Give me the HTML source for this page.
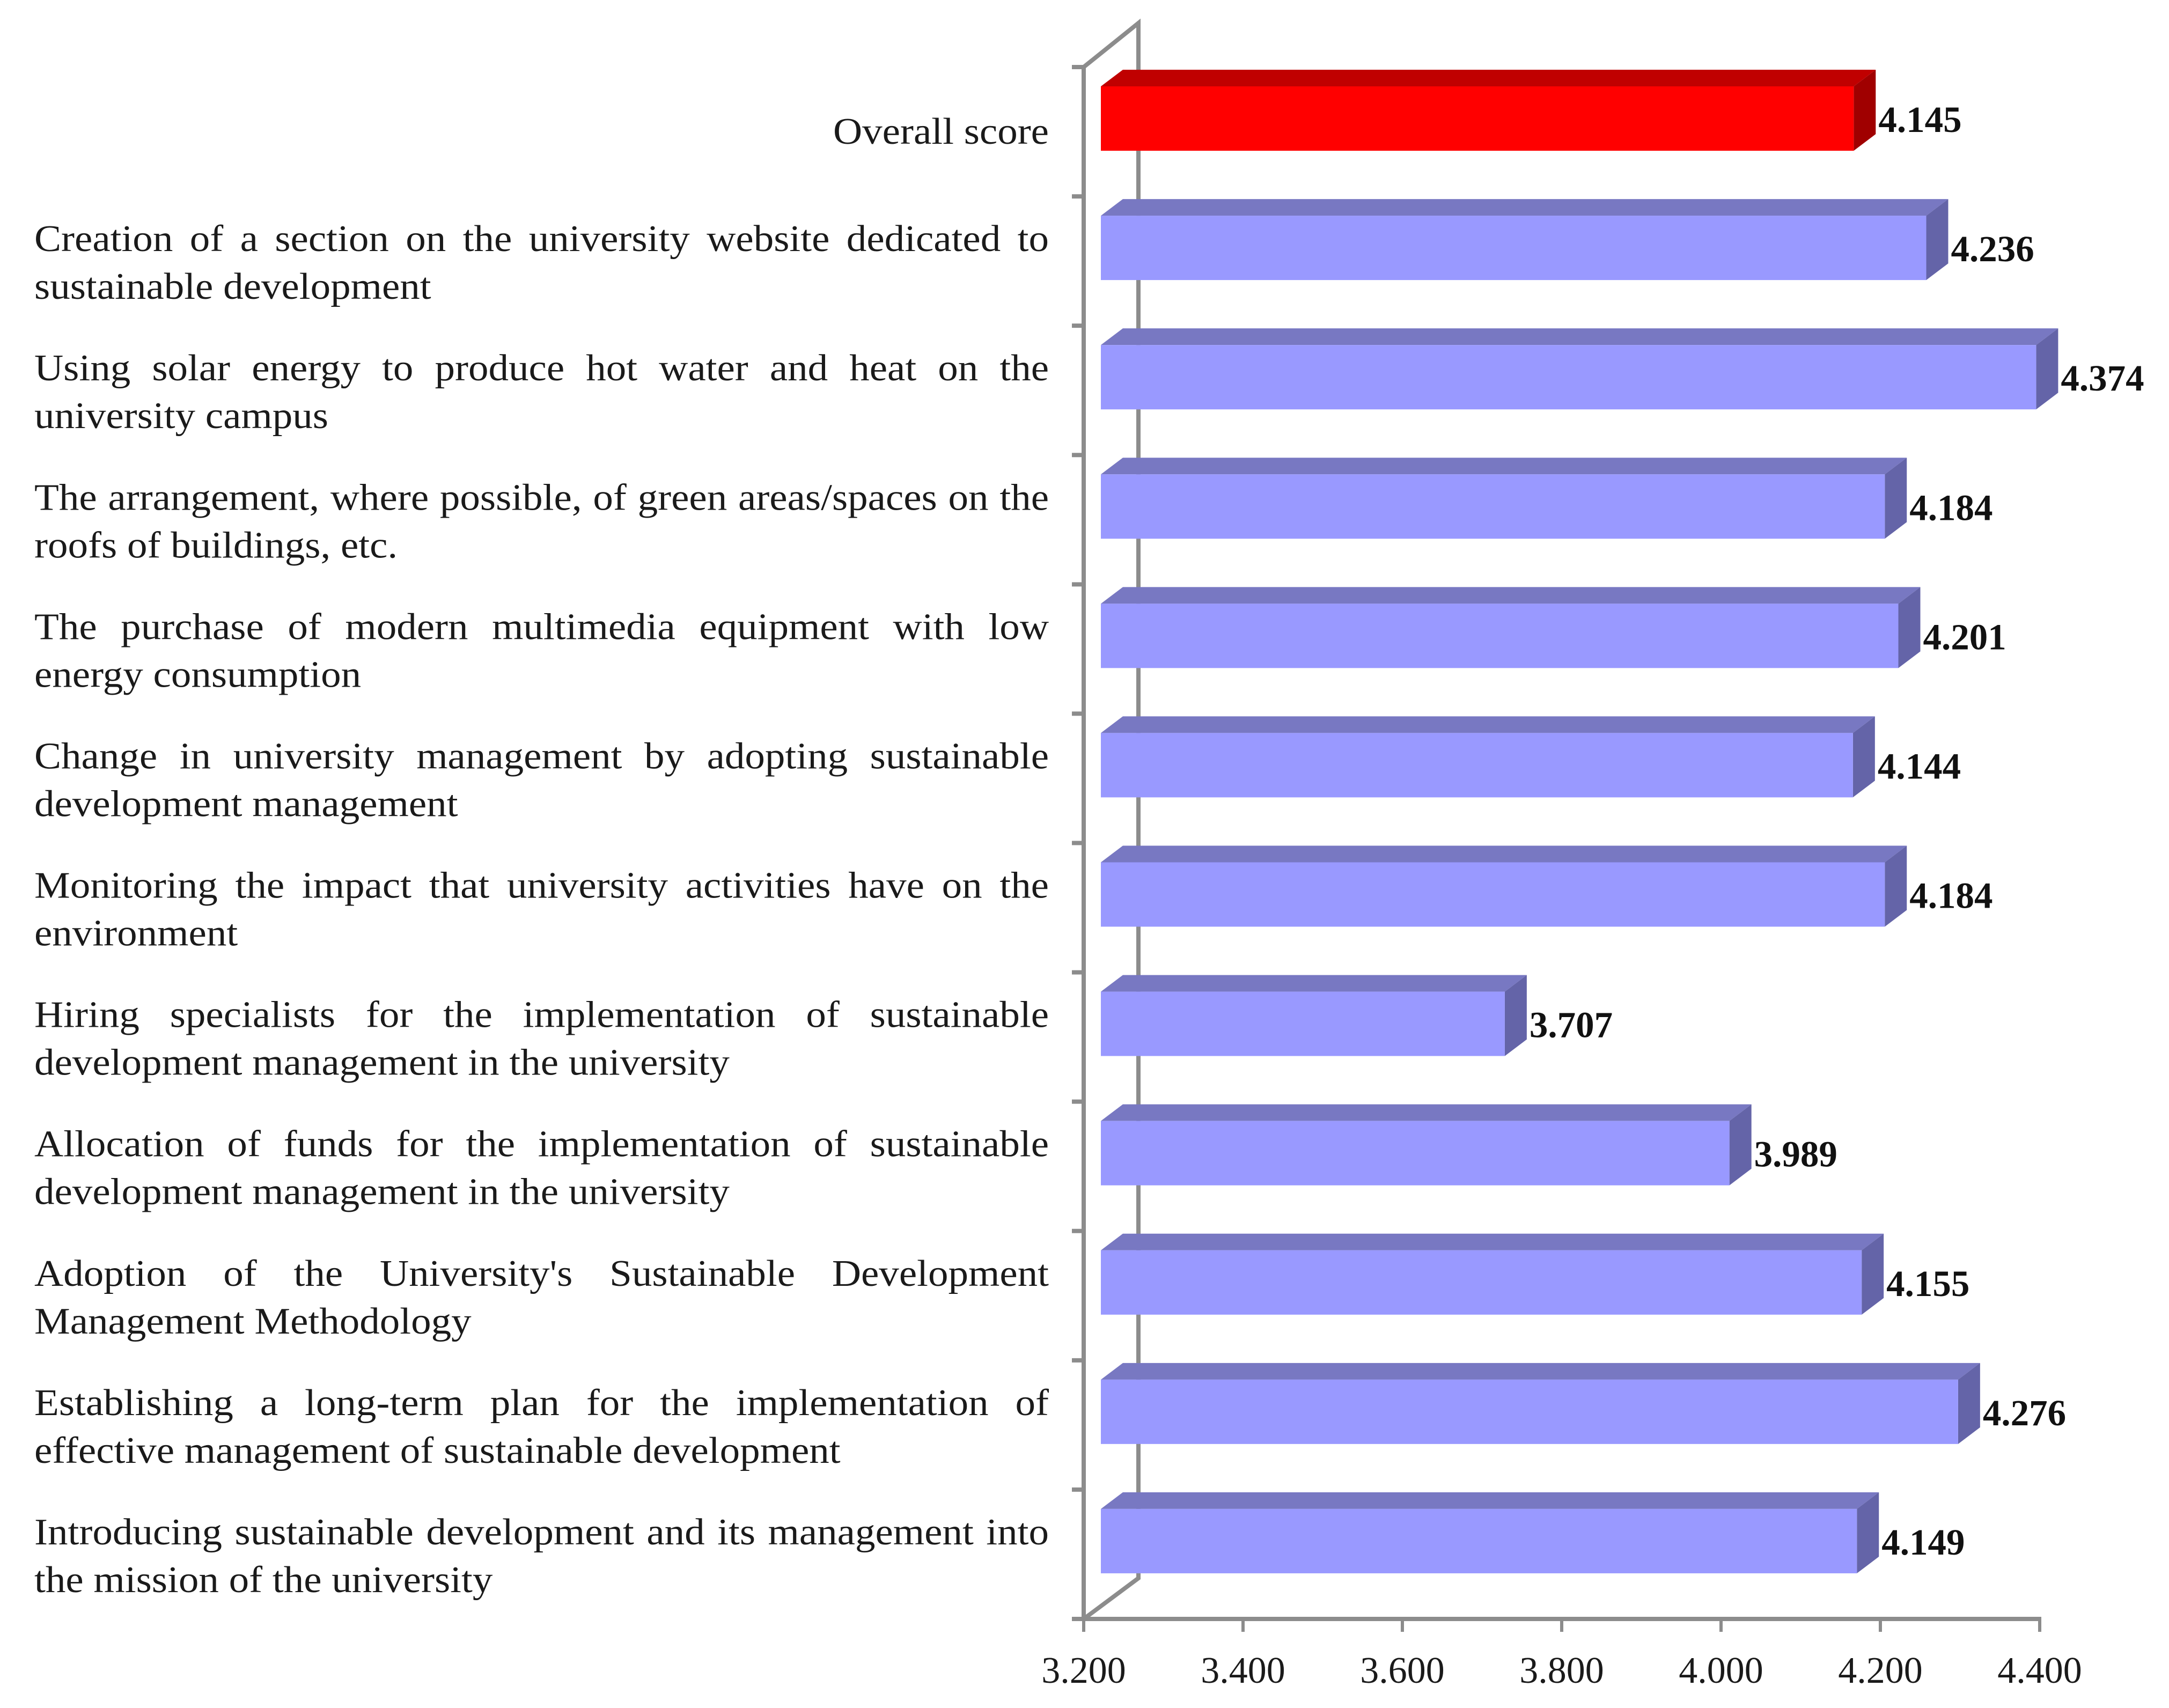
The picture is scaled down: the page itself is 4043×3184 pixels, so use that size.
<!DOCTYPE html>
<html lang="en">
<head>
<meta charset="utf-8">
<title>Sustainable development measures chart</title>
<style>
html,body{margin:0;padding:0;background:#fff;width:4043px;height:3184px;overflow:hidden}
svg{display:block}
text{font-family:"Liberation Serif",serif}
.cat{font-size:70px;fill:#1a1a1a}
.val{font-size:69px;font-weight:bold;fill:#111}
.tick{font-size:70px;fill:#1a1a1a}
</style>
</head>
<body>
<svg id="chart" xmlns="http://www.w3.org/2000/svg" width="4043" height="3184" viewBox="0 0 4043 3184"></svg>
<script>
const categories = [
  ["Overall score"],
  ["Creation of a section on the university website dedicated to", "sustainable development"],
  ["Using solar energy to produce hot water and heat on the", "university campus"],
  ["The arrangement, where possible, of green areas/spaces on the", "roofs of buildings, etc."],
  ["The purchase of modern multimedia equipment with low", "energy consumption"],
  ["Change in university management by adopting sustainable", "development management"],
  ["Monitoring the impact that university activities have on the", "environment"],
  ["Hiring specialists for the implementation of sustainable", "development management in the university"],
  ["Allocation of funds for the implementation of sustainable", "development management in the university"],
  ["Adoption of the University's Sustainable Development", "Management Methodology"],
  ["Establishing a long-term plan for the implementation of", "effective management of sustainable development"],
  ["Introducing sustainable development and its management into", "the mission of the university"]
];
const values = [4.145, 4.236, 4.374, 4.184, 4.201, 4.144, 4.184, 3.707, 3.989, 4.155, 4.276, 4.149];
const tickLabels = ["3.200", "3.400", "3.600", "3.800", "4.000", "4.200", "4.400"];

const svg = document.getElementById('chart');
const NS = 'http://www.w3.org/2000/svg';
const axisMin = parseFloat(tickLabels[0]);
const axisMax = parseFloat(tickLabels[tickLabels.length - 1]);
const plotLeft = 2020, plotRight = 3802, plotTop = 125, plotBottom = 3018;
const wallDx = 102, wallDy = 76;
const barFrontDx = 32, barBackDx = 73;
const labelLeft = 64, labelRight = 1955;
const labelStretch = 1.072;
const AXIS = '#8c8c8c';

function xScale(v) { return plotLeft + (v - axisMin) / (axisMax - axisMin) * (plotRight - plotLeft); }
function rowTop(i) { return plotTop + i * (plotBottom - plotTop) / categories.length; }

function make(tag, attrs) {
  const el = document.createElementNS(NS, tag);
  for (const k in attrs) el.setAttribute(k, attrs[k]);
  svg.appendChild(el);
  return el;
}
function pts(list) { return list.map(p => p.join(',')).join(' '); }
function stretched(x, y) { return 'translate(' + x + ',' + y + ') scale(' + labelStretch + ',1)'; }

// Back wall
const backWall = make('polyline', {
  points: pts([[plotLeft, plotTop], [plotLeft + wallDx, plotTop - 82], [plotLeft + wallDx, plotBottom - wallDy], [plotLeft, plotBottom]]),
  fill: 'none', stroke: AXIS, 'stroke-width': 8
});



// Category axis with ticks
const yAxis = make('line', { x1: plotLeft, y1: plotTop, x2: plotLeft, y2: plotBottom, stroke: AXIS, 'stroke-width': 8 });



for (let i = 0; i <= categories.length; i++) {
  const t = make('line', { x1: plotLeft - 22, y1: rowTop(i), x2: plotLeft, y2: rowTop(i), stroke: AXIS, 'stroke-width': 8 });
  
  
}

// Bars
values.forEach((v, i) => {
  const top = rowTop(i);
  const red = i === 0;
  const x0 = xScale(axisMin) + barFrontDx;
  const x0b = xScale(axisMin) + barBackDx;
  const x1 = xScale(v) + barFrontDx;
  const x1b = xScale(v) + barBackDx;
  const yBack = top + 5, yFront = top + 36, yBottom = top + 156, yBottomBack = top + 125;

  const topFace = make('polygon', {
    points: pts([[x0, yFront], [x0b, yBack], [x1b, yBack], [x1, yFront]]),
    fill: red ? '#c00000' : '#7878c2'
  });
  
  

  const sideFace = make('polygon', {
    points: pts([[x1, yFront], [x1b, yBack], [x1b, yBottomBack], [x1, yBottom]]),
    fill: red ? '#a00000' : '#6464a8'
  });
  
  

  const front = make('rect', {
    x: x0, y: yFront, width: x1 - x0, height: yBottom - yFront,
    fill: red ? '#ff0000' : '#9999ff'
  });
  
  

  const label = make('text', { x: x1b + 5, y: top + 121, class: 'val' });
  label.textContent = v.toFixed(3);
  
  
});

// Value axis
const xAxis = make('line', { x1: plotLeft - 22, y1: plotBottom, x2: plotRight + 3, y2: plotBottom, stroke: AXIS, 'stroke-width': 8 });



tickLabels.forEach(s => {
  const x = xScale(parseFloat(s));
  const t = make('line', { x1: x, y1: plotBottom, x2: x, y2: plotBottom + 24, stroke: AXIS, 'stroke-width': 6 });
  
  
  const lab = make('text', { x: x, y: 3137, 'text-anchor': 'middle', class: 'tick' });
  lab.textContent = s;
  
  
});

// Category labels (first lines justified, last lines natural, all slightly widened)
categories.forEach((lines, i) => {
  const top = rowTop(i);
  if (lines.length === 1) {
    const t = make('text', { transform: stretched(labelRight, top + 143), 'text-anchor': 'end', class: 'cat' });
    t.textContent = lines[0];
    
    
    return;
  }
  const first = make('text', { transform: stretched(labelLeft, top + 102), class: 'cat' });
  first.textContent = lines[0];
  
  
  const gaps = lines[0].split(' ').length - 1;
  const natural = first.getComputedTextLength();
  first.style.wordSpacing = (((labelRight - labelLeft) / labelStretch - natural) / gaps) + 'px';

  const second = make('text', { transform: stretched(labelLeft, top + 191), class: 'cat' });
  second.textContent = lines[1];
  
  
});
</script>
</body>
</html>
